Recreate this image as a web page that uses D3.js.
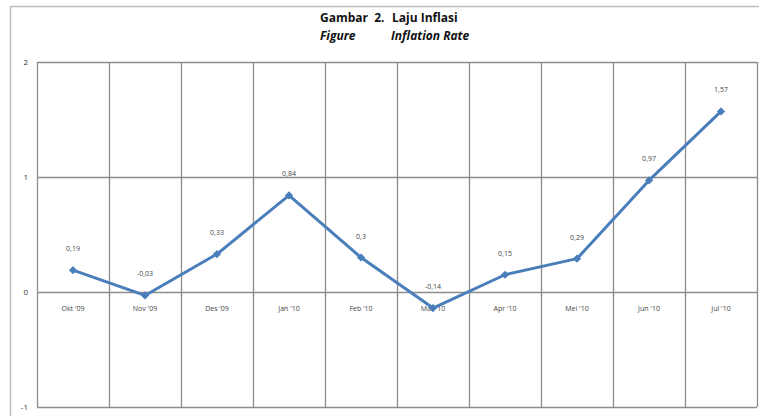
<!DOCTYPE html>
<html>
<head>
	<title>Laju Inflasi</title>
	<script src="https://d3js.org/d3.v7.min.js"></script>
	<style>
		body { margin: 0; background: #fff; }
		text { white-space: pre; }
	</style>
</head>
<body>
<section id="container"></section>
<script>
// data
var months = ["Okt '09", "Nov '09", "Des '09", "Jan '10", "Feb '10", "Mar '10", "Apr '10", "Mei '10", "Jun '10", "Jul '10"];
var inflation = [0.19, -0.03, 0.33, 0.84, 0.3, -0.14, 0.15, 0.29, 0.97, 1.57];
var yTicks = [-1, 0, 1, 2];

var width = 759, height = 416;
var plot = {left: 37, right: 757, top: 62, bottom: 407};

var svg = d3.select("#container")
	.append("svg")
	.attr("width", width)
	.attr("height", height);

//outer frame of the figure
svg.append("rect")
	.attr("x", 10.5)
	.attr("y", 6.5)
	.attr("width", 760)
	.attr("height", 420)
	.attr("fill", "none")
	.attr("stroke", "#bdbdbd")
	.attr("stroke-width", 1.5);

//title
var title = svg.append("g")
	.attr("font-family", "'Open Sans', sans-serif")
	.attr("font-weight", "bold")
	.attr("font-size", 12)
	.attr("fill", "#111");
title.append("text").attr("x", 320).attr("y", 22).text("Gambar  2.");
title.append("text").attr("x", 392).attr("y", 22).text("Laju Inflasi");
title.append("text").attr("x", 320).attr("y", 40).attr("font-style", "italic").text("Figure");
title.append("text").attr("x", 391).attr("y", 40).attr("font-style", "italic").text("Inflation Rate");

//scales
var x = d3.scaleBand()
	.domain(months)
	.range([plot.left, plot.right]);

var y = d3.scaleLinear()
	.domain([-1, 2])
	.range([plot.bottom, plot.top]);

//grid: horizontal lines
svg.append("g")
	.selectAll("line")
	.data(yTicks)
	.enter().append("line")
	.attr("x1", plot.left)
	.attr("x2", plot.right)
	.attr("y1", function(d) { return Math.round(y(d)) + 0.5; })
	.attr("y2", function(d) { return Math.round(y(d)) + 0.5; })
	.attr("stroke", "#8c8c8c")
	.attr("stroke-width", 1.3);

//grid: vertical lines at category edges
var edges = months.map(function(m) { return x(m); }).concat([plot.right]);
svg.append("g")
	.selectAll("line")
	.data(edges)
	.enter().append("line")
	.attr("x1", function(d) { return Math.round(d) + 0.5; })
	.attr("x2", function(d) { return Math.round(d) + 0.5; })
	.attr("y1", plot.top)
	.attr("y2", plot.bottom)
	.attr("stroke", "#8c8c8c")
	.attr("stroke-width", 1.3);

//y axis labels
svg.append("g")
	.selectAll("text")
	.data(yTicks)
	.enter().append("text")
	.attr("x", 28)
	.attr("y", function(d) { return y(d) + 3; })
	.attr("text-anchor", "end")
	.attr("font-family", "'Open Sans', sans-serif")
	.attr("font-size", 8)
	.attr("fill", "#333")
	.text(function(d) { return d; });

//x axis labels under the zero line
svg.append("g")
	.selectAll("text")
	.data(months)
	.enter().append("text")
	.attr("x", function(d) { return x(d) + x.bandwidth() / 2; })
	.attr("y", y(0) + 19)
	.attr("text-anchor", "middle")
	.attr("font-family", "'Open Sans', sans-serif")
	.attr("font-size", 7)
	.attr("fill", "#444")
	.text(function(d) { return d; });

//the line
var line = d3.line()
	.x(function(d, i) { return x(months[i]) + x.bandwidth() / 2; })
	.y(function(d) { return y(d); });

svg.append("path")
	.datum(inflation)
	.attr("d", line)
	.attr("fill", "none")
	.attr("stroke", "#4a7ebb")
	.attr("stroke-width", 3)
	.attr("stroke-linejoin", "round");

//diamond markers (square turned 45 degrees)
svg.append("g")
	.selectAll("path")
	.data(inflation)
	.enter().append("path")
	.attr("d", d3.symbol().type(d3.symbolSquare).size(34))
	.attr("transform", function(d, i) {
		return "translate(" + (x(months[i]) + x.bandwidth() / 2) + "," + y(d) + ") rotate(45)";
	})
	.attr("fill", "#4a7ebb");

//data labels
svg.append("g")
	.selectAll("text")
	.data(inflation)
	.enter().append("text")
	.attr("x", function(d, i) { return x(months[i]) + x.bandwidth() / 2; })
	.attr("y", function(d) { return y(d) - 19; })
	.attr("text-anchor", "middle")
	.attr("font-family", "'Open Sans', sans-serif")
	.attr("font-size", 7)
	.attr("fill", "#444")
	.text(function(d) { return String(d).replace(".", ","); });
</script>
</body>
</html>
